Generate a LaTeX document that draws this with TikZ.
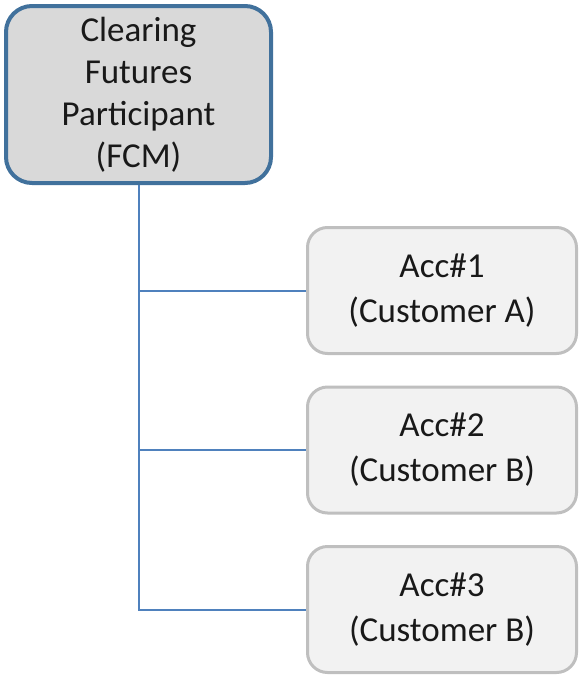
\documentclass[tikz,border=0pt]{standalone}
\usepackage{fontspec}
\setmainfont{Carlito}
\usepackage{tikz}

\definecolor{fcmborder}{HTML}{41719C}
\definecolor{fcmfill}{HTML}{D9D9D9}
\definecolor{accborder}{HTML}{BFBFBF}
\definecolor{accfill}{HTML}{F2F2F2}
\definecolor{linkblue}{HTML}{4F81BD}

\begin{document}
\begin{tikzpicture}[x=1pt,y=-1pt,node distance=159.5pt,
  fcm node/.style={rectangle,rounded corners=26pt,draw=fcmborder,fill=fcmfill,line width=4pt,
    minimum width=265pt,minimum height=177pt,align=center,text=black!90,
    font=\fontsize{35}{42}\selectfont},
  acc node/.style={rectangle,rounded corners=20pt,draw=accborder,fill=accfill,line width=3pt,
    minimum width=269pt,minimum height=126pt,align=center,text=black!90,
    font=\fontsize{35}{45}\selectfont},
  link/.style={draw=linkblue,line width=2pt}]

  \useasboundingbox (0,0) rectangle (579,675);

  \node[fcm node] (fcm) at (138.5,94.5) {Clearing\\Futures\\Participant\\(FCM)};
  \node[acc node] (acc1) at (442,290.5) {Acc\#1\\(Customer A)};
  \node[acc node] (acc2) [below of=acc1] {Acc\#2\\(Customer B)};
  \node[acc node] (acc3) [below of=acc2] {Acc\#3\\(Customer B)};

  \path[link]
    (fcm.south) -- (fcm.south |- acc3.west) -- (acc3.west)
    (fcm.south |- acc1.west) -- (acc1.west)
    (fcm.south |- acc2.west) -- (acc2.west);
\end{tikzpicture}
\end{document}
